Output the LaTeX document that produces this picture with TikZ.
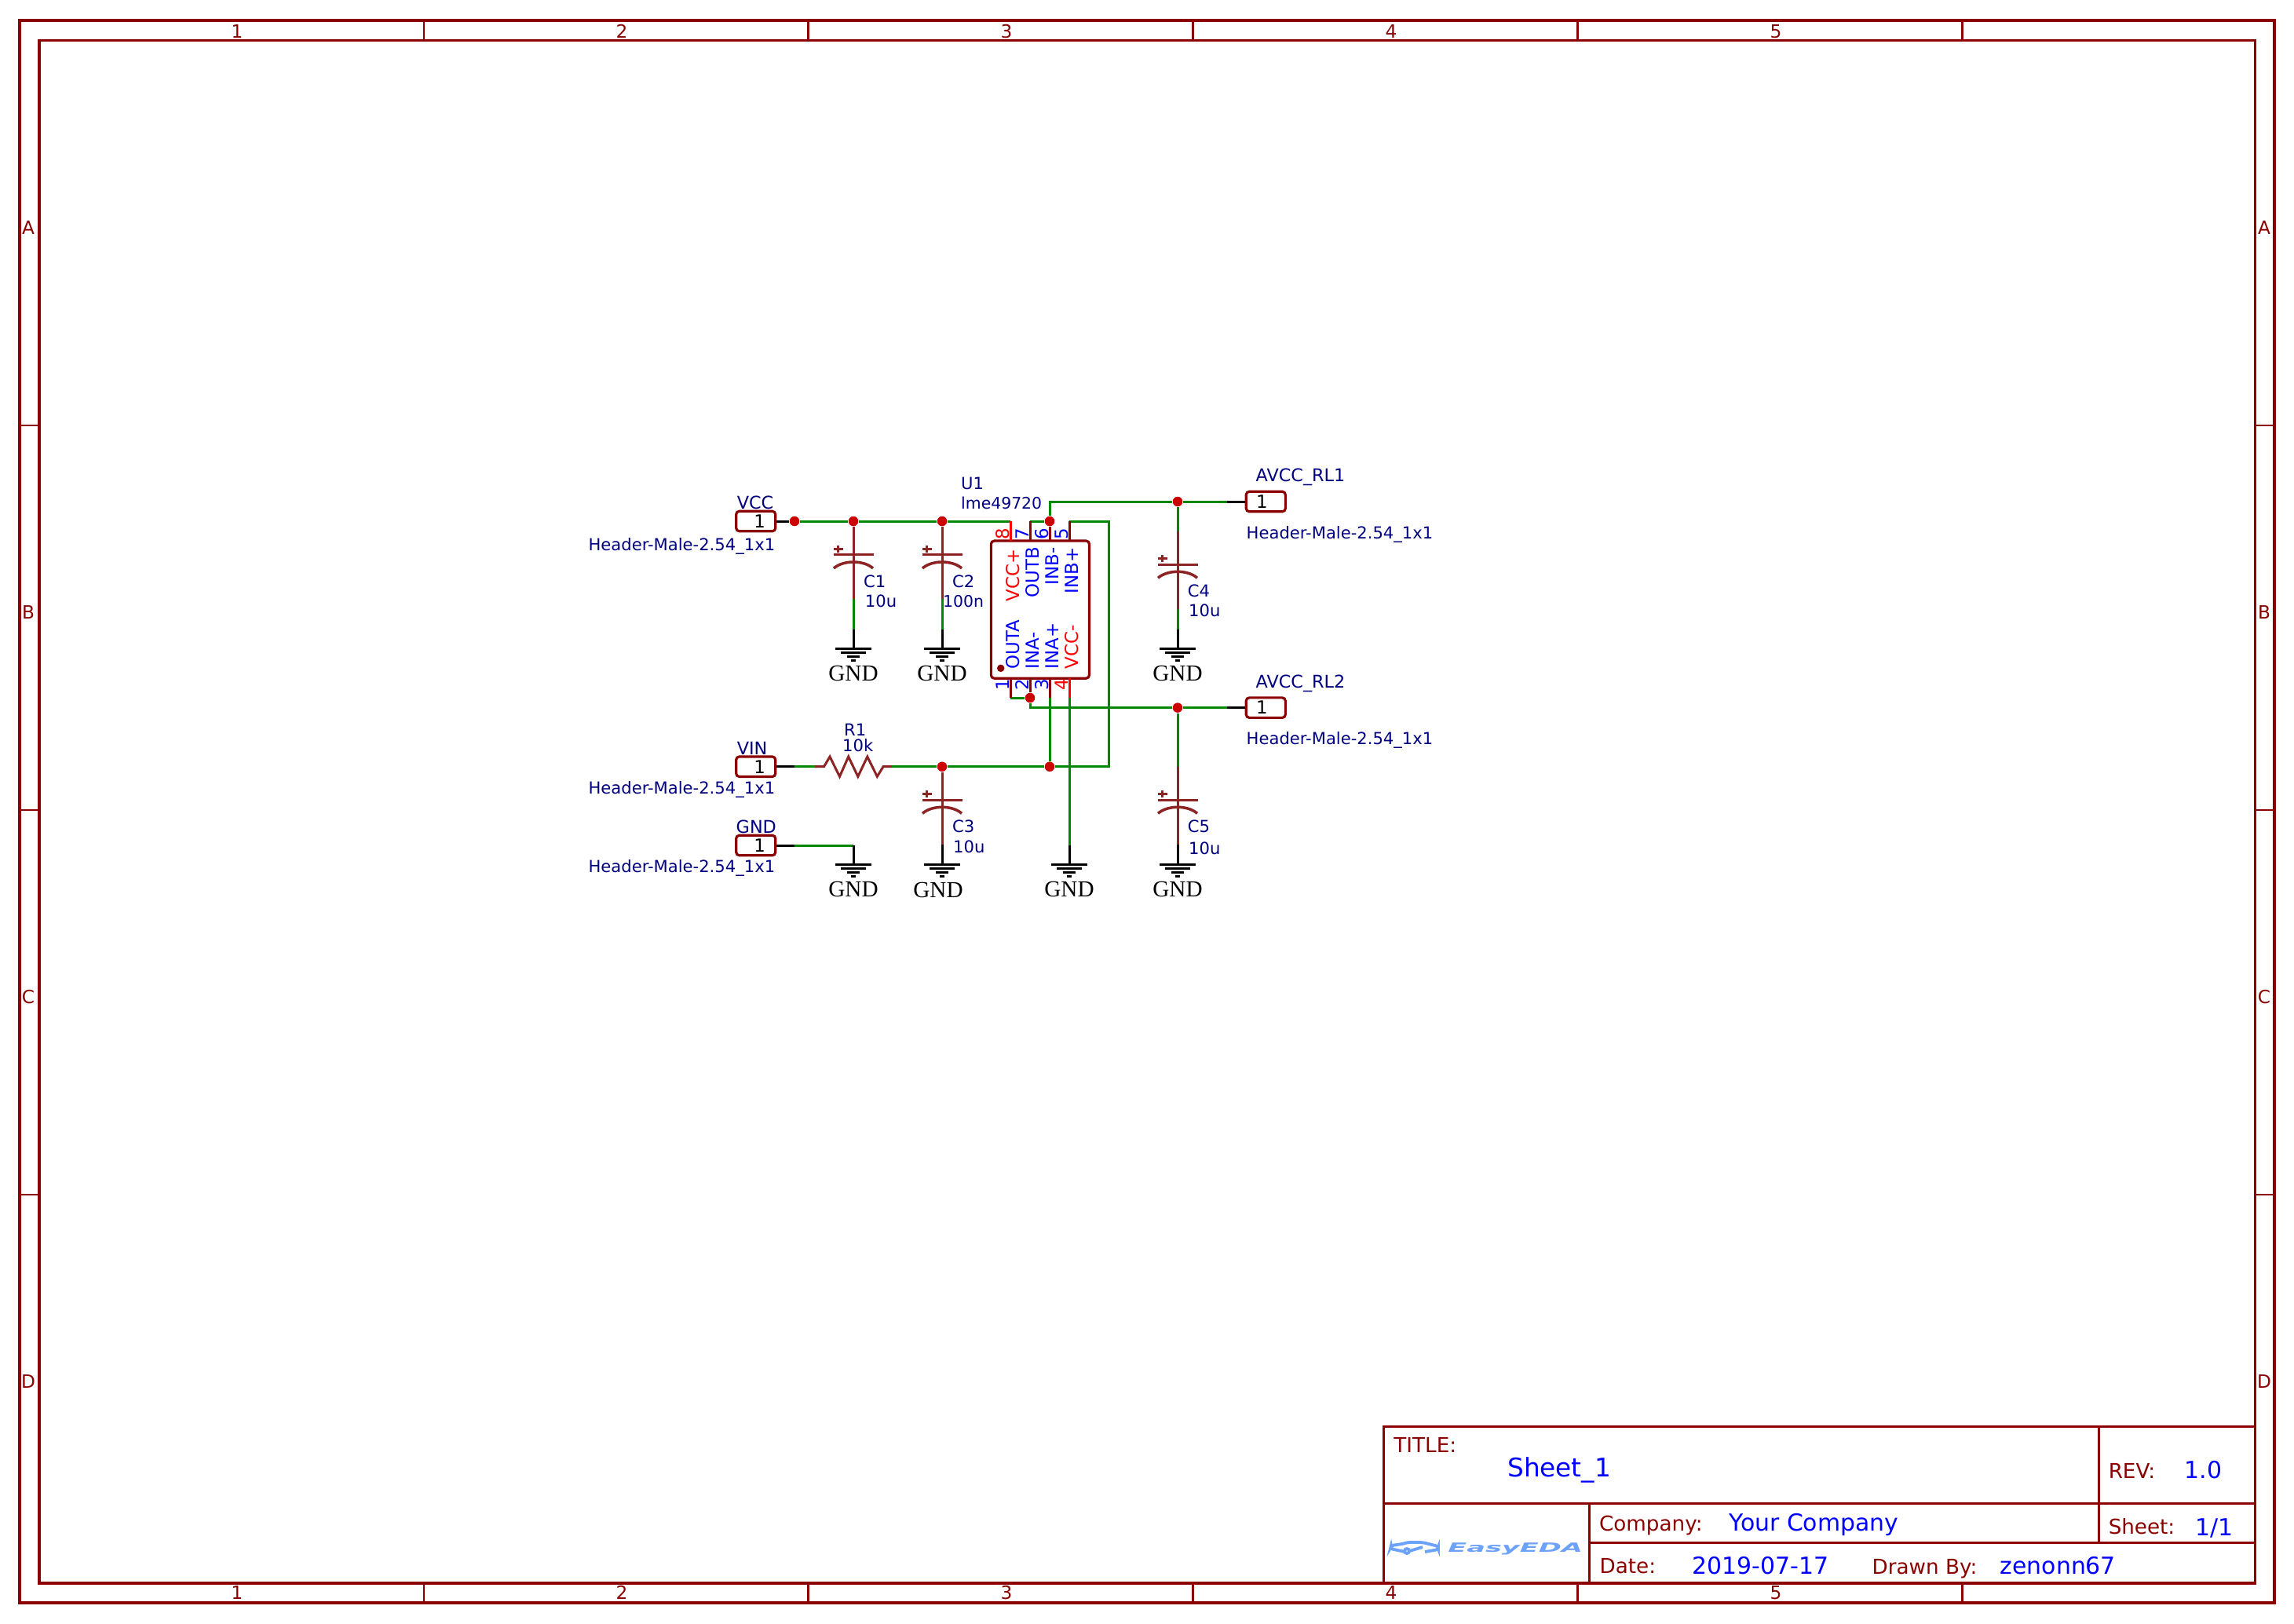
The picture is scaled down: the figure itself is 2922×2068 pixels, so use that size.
\documentclass[tikz,border=0pt]{standalone}
\usepackage{fontspec}
\setmainfont{DejaVu Sans}
\newfontfamily\gndfont{Liberation Serif}
\usetikzlibrary{positioning}
\definecolor{framered}{HTML}{8B0000}
\definecolor{capred}{HTML}{8D2323}
\definecolor{wiregreen}{HTML}{008800}
\definecolor{dotred}{HTML}{CC0000}
\definecolor{labelblue}{HTML}{000080}
\definecolor{logoblue}{HTML}{6CA2FA}
\newcommand{\fsmall}{\fontsize{6}{7}\selectfont}
\newcommand{\fnet}{\fontsize{6.35}{8}\selectfont}
\newcommand{\fpin}{\fontsize{6.5}{8}\selectfont}
\newcommand{\fframe}{\fontsize{6.6}{8}\selectfont}
\newcommand{\ftitle}{\fontsize{7.45}{9}\selectfont}
\newcommand{\fvalue}{\fontsize{8.5}{10}\selectfont}
\newcommand{\fsheet}{\fontsize{9.3}{11}\selectfont}
\tikzset{
    wire/.style={draw=wiregreen, line width=0.85pt},
    blackwire/.style={draw=black, line width=0.85pt},
    pinline/.style={draw=framered, line width=0.85pt},
    powerline/.style={draw=red, line width=0.85pt},
    capline/.style={draw=capred, line width=0.85pt},
    sheetline/.style={draw=framered, line width=0.9pt},
    tickline/.style={draw=framered, line width=0.7pt},
    junction/.style={circle, fill=dotred, inner sep=0pt, minimum size=0.125cm},
    header/.style={draw=framered, line width=0.9pt, rectangle, rounded corners=0.04cm, minimum width=0.5cm, minimum height=0.255cm, inner sep=0pt, font=\fpin},
    chip/.style={draw=framered, line width=0.9pt, rectangle, rounded corners=0.04cm, minimum width=1.25cm, minimum height=1.75cm},
    label/.style={anchor=base west, inner sep=0pt, text=labelblue, font=\fsmall, xshift=-0.015cm, yshift=-0.01cm},
    netlabel/.style={label, font=\fnet},
    gndlabel/.style={anchor=base, inner sep=0pt, font=\gndfont\fontsize{8.3}{10}\selectfont, yshift=-0.005cm},
    pinnum/.style={rotate=90, anchor=base, inner sep=0pt, font=\fpin},
    pinname/.style={rotate=90, anchor=base west, inner sep=0pt, font=\fpin},
    sheetmark/.style={anchor=base, inner sep=0pt, text=framered, font=\fframe},
    sheettext/.style={anchor=base west, inner sep=0pt, text=framered, font=\ftitle, yshift=-0.015cm},
    sheetvalue/.style={anchor=base west, inner sep=0pt, text=blue, font=\fvalue, yshift=-0.015cm}
}
% capacitor symbol: name, x, y of the straight plate
\newcommand{\polcap}[3]{
    \coordinate (#1a) at (#2,#3);
    \coordinate (#1b) at (#2,#3+9.3);
    \draw[capline] (#2-25.5,#3) -- (#2+25.5,#3);
    \draw[capline, line width=1pt] (#2-25,#3+17.3) .. controls (#2-13,#3+6.6) and (#2+13,#3+6.6) .. (#2+25,#3+17.3);
    \draw[capline, line width=1pt] (#2-25.5,#3-7.4) -- (#2-13.5,#3-7.4) (#2-19.5,#3-12) -- (#2-19.5,#3-3);
}
% ground symbol: name, x, y of the top bar
\newcommand{\gndsym}[3]{
    \coordinate (#1) at (#2,#3);
    \draw[blackwire] (#2-23,#3) -- (#2+23,#3);
    \draw[blackwire] (#2-16,#3+5) -- (#2+16,#3+5);
    \draw[blackwire] (#2-8,#3+10) -- (#2+8,#3+10);
    \draw[blackwire] (#2-3,#3+15) -- (#2+3,#3+15);
}

\begin{document}
\begin{tikzpicture}[x=0.01cm,y=-0.01cm]
    \useasboundingbox (0,0) rectangle (2922,2068);
    % sheet frame
    \draw[sheetline] (25,26) rectangle (2897,2042);
    \draw[sheetline] (50,51.7) rectangle (2872.7,2017);
    \foreach \x/\n in {540/1,1029.5/2,1519.5/3,2009.5/4,2499.5/5} {
        \draw[tickline] (\x,26) -- (\x,51.7);
        \draw[tickline] (\x,2017) -- (\x,2042);
    }
    \foreach \y in {542,1032,1522} {
        \draw[tickline] (25,\y) -- (50,\y);
        \draw[tickline] (2872.7,\y) -- (2897,\y);
    }
    \foreach \x/\n in {302/1,792/2,1282/3,1772/4,2262/5} {
        \node[sheetmark] (top\n) at (\x,48) {\n};
        \node[sheetmark] (bot\n) at (\x,2037.3) {\n};
    }
    \foreach \y/\n in {298.5/A,788.5/B,1278.5/C,1768.5/D} {
        \node[sheetmark] (left\n) at (36,\y) {\n};
        \node[sheetmark] (right\n) at (2884,\y) {\n};
    }
    % title block
    \draw[sheetline] (1762.6,1817.5) rectangle (2872.7,2017);
    \draw[sheetline] (1762.6,1915.5) -- (2872.7,1915.5);
    \draw[sheetline] (2024.3,1965.5) -- (2872.7,1965.5);
    \draw[tickline] (2673.6,1817.5) -- (2673.6,1965.5);
    \draw[tickline] (2024.3,1915.5) -- (2024.3,2017);
    \node[sheettext] (ttitle) at (1774.7,1849) {TITLE:};
    \node[sheetvalue, font=\fsheet] (vtitle) at (1919.5,1880) {Sheet\_1};
    \node[sheettext] (trev) at (2685,1881.7) {REV:};
    \node[sheetvalue] (vrev) at (2782,1881.7) {1.0};
    \node[sheettext] (tcompany) at (2036.4,1949.3) {Company:};
    \node[sheetvalue] (vcompany) at (2202,1949.3) {Your Company};
    \node[sheettext] (tsheet) at (2685,1953) {Sheet:};
    \node[sheetvalue] (vsheet) at (2796,1955) {1/1};
    \node[sheettext] (tdate) at (2037,2003.3) {Date:};
    \node[sheetvalue] (vdate) at (2154.8,2004) {2019-07-17};
    \node[sheettext] (tdrawn) at (2384,2004) {Drawn By:};
    \node[sheetvalue] (vdrawn) at (2547,2004) {zenonn67};
    % logo
    \draw[logoblue, line width=1.1pt, rounded corners=0.03cm] (1790,1977) -- (1771,1973) -- (1772,1969) -- (1786,1967) -- (1793,1965) -- (1812,1965) -- (1820,1967) -- (1832,1970) -- (1832,1974) -- (1815,1977);
    \draw[logoblue, line width=1.1pt] (1792,1976) circle (0.03cm) (1795,1976) -- (1812,1971);
    \node[anchor=base west, inner sep=0pt, text=logoblue] (logo) at (1843.7,1977.7) {\scalebox{2.17}[1]{\fontsize{4.6}{5}\selectfont\bfseries\itshape EasyEDA}};
    % chip
    \node[chip] (u1) at (1324.9,776.6) {};
    \coordinate (p8) at (1287,689);
    \coordinate (p7) at (1312,689);
    \coordinate (p6) at (1337,689);
    \coordinate (p5) at (1362,689);
    \coordinate (p1) at (1287,864.2);
    \coordinate (p2) at (1312,864.2);
    \coordinate (p3) at (1337,864.2);
    \coordinate (p4) at (1362,864.2);
    \node[circle, fill=framered, inner sep=0pt, minimum size=0.095cm] (mark) at (1274.7,851.3) {};
    \node[label] (refu1) at (1225,622.7) {U1};
    \node[label, font=\fontsize{5.8}{7}\selectfont] (valu1) at (1225,647.7) {lme49720};
    \node[pinnum, text=red] (n8) at (1285,680) {8};
    \node[pinnum, text=blue] (n7) at (1310,680) {7};
    \node[pinnum, text=blue] (n6) at (1335,680) {6};
    \node[pinnum, text=blue] (n5) at (1360,680) {5};
    \node[pinnum, text=blue] (n1) at (1285,872.5) {1};
    \node[pinnum, text=blue] (n2) at (1310,872.5) {2};
    \node[pinnum, text=blue] (n3) at (1335,872.5) {3};
    \node[pinnum, text=red] (n4) at (1360,872.5) {4};
    \node[pinname, text=red] (vccp) at (1298,767) {VCC+};
    \node[pinname, text=blue] (outb) at (1323,761.7) {OUTB};
    \node[pinname, text=blue] (inbn) at (1348,746) {INB-};
    \node[pinname, text=blue] (inbp) at (1373,756.7) {INB+};
    \node[pinname, text=blue] (outa) at (1298,853) {OUTA};
    \node[pinname, text=blue] (inan) at (1323,853) {INA-};
    \node[pinname, text=blue] (inap) at (1348,853) {INA+};
    \node[pinname, text=red] (vccn) at (1373,853) {VCC-};
    % headers
    \node[header] (hvcc) at (962.7,664) {\hspace{0.1cm}1};
    \node[header] (hvin) at (962.7,976.7) {\hspace{0.1cm}1};
    \node[header] (hgnd) at (962.7,1077) {\hspace{0.1cm}1};
    \node[header] (hrl1) at (1612.3,639) {\hspace{-0.1cm}1};
    \node[header] (hrl2) at (1612.3,901.6) {\hspace{-0.1cm}1};
    \node[netlabel] (lvcc) at (939.6,647.7) {VCC};
    \node[netlabel] (lvin) at (939.6,960) {VIN};
    \node[netlabel] (lgnd) at (938.5,1060) {GND};
    \node[netlabel] (lrl1) at (1600.5,612.7) {AVCC\_RL1};
    \node[netlabel] (lrl2) at (1600.5,875) {AVCC\_RL2};
    \node[label] (tvcc) at (750.4,700) {Header-Male-2.54\_1x1};
    \node[label] (tvin) at (750.4,1010) {Header-Male-2.54\_1x1};
    \node[label] (tgnd) at (750.4,1110) {Header-Male-2.54\_1x1};
    \node[label] (trl1) at (1588.5,685) {Header-Male-2.54\_1x1};
    \node[label] (trl2) at (1588.5,947.3) {Header-Male-2.54\_1x1};
    % junctions
    \node[junction] (j0) at (1012,664) {};
    \node[junction] (j1) at (1087,664) {};
    \node[junction] (j2) at (1200,664) {};
    \node[junction] (j3) at (1200,976.7) {};
    \node[junction] (j4) at (1500,639) {};
    \node[junction] (j5) at (1337,976.7) {};
    \node[junction] (j6) at (1337,664) {};
    \node[junction] (j7) at (1312,889) {};
    \node[junction] (j8) at (1500,901.6) {};
    % capacitors
    \polcap{c1}{1087}{706.7}
    \polcap{c2}{1200}{706.7}
    \polcap{c3}{1200}{1019}
    \polcap{c4}{1500}{719}
    \polcap{c5}{1500}{1019}
    \node[label] (refc1) at (1101,747) {C1};
    \node[label] (valc1) at (1102.7,772) {10u};
    \node[label] (refc2) at (1214,747) {C2};
    \node[label, font=\fontsize{5.8}{7}\selectfont] (valc2) at (1202,772) {100n};
    \node[label] (refc3) at (1214,1059) {C3};
    \node[label] (valc3) at (1215,1085) {10u};
    \node[label] (refc4) at (1513.6,759) {C4};
    \node[label] (valc4) at (1515,784.7) {10u};
    \node[label] (refc5) at (1513.6,1059) {C5};
    \node[label] (valc5) at (1515,1087) {10u};
    % ground symbols
    \gndsym{g1}{1087}{826.7}
    \gndsym{g2}{1200}{826.7}
    \gndsym{g3}{1087}{1101.7}
    \gndsym{g4}{1200}{1101.7}
    \gndsym{g5}{1362}{1101.7}
    \gndsym{g6}{1500}{826.7}
    \gndsym{g7}{1500}{1101.7}
    \node[gndlabel] (tg1) at (1087,866.7) {GND};
    \node[gndlabel] (tg2) at (1200,866.7) {GND};
    \node[gndlabel] (tg3) at (1087,1141.7) {GND};
    \node[gndlabel] (tg4) at (1195,1143.3) {GND};
    \node[gndlabel] (tg5) at (1362,1141.7) {GND};
    \node[gndlabel] (tg6) at (1500,866.7) {GND};
    \node[gndlabel] (tg7) at (1500,1141.7) {GND};
    % resistor
    \node[label] (refr1) at (1076,936) {R1};
    \node[label] (valr1) at (1074,956.7) {10k};
    \coordinate (r1a) at (1038,976.7);
    \coordinate (r1b) at (1136,976.7);
    \draw[capline, line join=miter] (r1a) -- (1049.5,976.7) -- (1057,964) -- (1069.5,989.3) -- (1080.7,964) -- (1092.8,989.3) -- (1104.8,964) -- (1117.3,989.3) -- (1125,976.7) -- (r1b);
    % break points of the wires
    \coordinate (bvin) at (1011.5,976.7);
    \coordinate (bgnd) at (1011.5,1077);
    \coordinate (bgnd2) at (1087,1077);
    \coordinate (brl1) at (1562.6,639);
    \coordinate (brl2) at (1562.6,901.6);
    \coordinate (w8) at (1287,664);
    \coordinate (w7) at (1312,664);
    \coordinate (w5) at (1362,664);
    \coordinate (w1) at (1287,889);
    \coordinate (w3) at (1337,889);
    \coordinate (w4) at (1362,889);
    \coordinate (w4b) at (1362,1077);
    \coordinate (d1) at (1087,763);
    \coordinate (d1b) at (1087,801.7);
    \coordinate (d2) at (1200,763);
    \coordinate (d2b) at (1200,801.7);
    \coordinate (d3) at (1200,1076);
    \coordinate (d4t) at (1500,677);
    \coordinate (d4) at (1500,776);
    \coordinate (d4b) at (1500,801.7);
    \coordinate (d5t) at (1500,977);
    \coordinate (d5) at (1500,1076);
    % green nets
    \draw[wire] (j0) -- (j1);
    \draw[wire] (j1) -- (j2);
    \draw[wire] (j2) -- (w8);
    \draw[wire] (w7) -- (j6);
    \draw[wire] (j6) |- (j4);
    \draw[wire] (j4) -- (brl1);
    \draw[wire] (w5) -| (1412,976.7) -- (j5);
    \draw[wire] (j5) -- (j3);
    \draw[wire] (j3) -- (r1b);
    \draw[wire] (bvin) -- (r1a);
    \draw[wire] (bgnd) -- (bgnd2);
    \draw[wire] (j5) -- (w3);
    \draw[wire] (w4) -- (w4b);
    \draw[wire] (w1) -- (j7);
    \draw[wire] (j7) |- (j8);
    \draw[wire] (j8) -- (brl2);
    \draw[wire] (j4) -- (d4t);
    \draw[wire] (j8) -- (d5t);
    \draw[wire] (d1) -- (d1b);
    \draw[wire] (d2) -- (d2b);
    \draw[wire] (d4) -- (d4b);
    % pins
    \draw[powerline] (w8) -- (p8);
    \draw[powerline] (p4) -- (w4);
    \draw[pinline] (w7) -- (p7);
    \draw[pinline] (j6) -- (p6);
    \draw[pinline] (w5) -- (p5);
    \draw[pinline] (p1) -- (w1);
    \draw[pinline] (p2) -- (j7);
    \draw[pinline] (p3) -- (w3);
    % capacitor leads
    \draw[capline] (j1) -- (c1a);
    \draw[capline] (c1a) -- (c1b) -- (d1);
    \draw[capline] (j2) -- (c2a);
    \draw[capline] (c2a) -- (c2b) -- (d2);
    \draw[capline] (j3) -- (c3a);
    \draw[capline] (c3a) -- (c3b) -- (d3);
    \draw[capline] (d4t) -- (c4a);
    \draw[capline] (c4a) -- (c4b) -- (d4);
    \draw[capline] (d5t) -- (c5a);
    \draw[capline] (c5a) -- (c5b) -- (d5);
    % black leads
    \draw[blackwire] (hvcc) -- (j0);
    \draw[blackwire] (hvin) -- (bvin);
    \draw[blackwire] (hgnd) -- (bgnd);
    \draw[blackwire] (hrl1) -- (brl1);
    \draw[blackwire] (hrl2) -- (brl2);
    \draw[blackwire] (d1b) -- (g1);
    \draw[blackwire] (d2b) -- (g2);
    \draw[blackwire] (bgnd2) -- (g3);
    \draw[blackwire] (d3) -- (g4);
    \draw[blackwire] (w4b) -- (g5);
    \draw[blackwire] (d4b) -- (g6);
    \draw[blackwire] (d5) -- (g7);
\end{tikzpicture}
\end{document}
